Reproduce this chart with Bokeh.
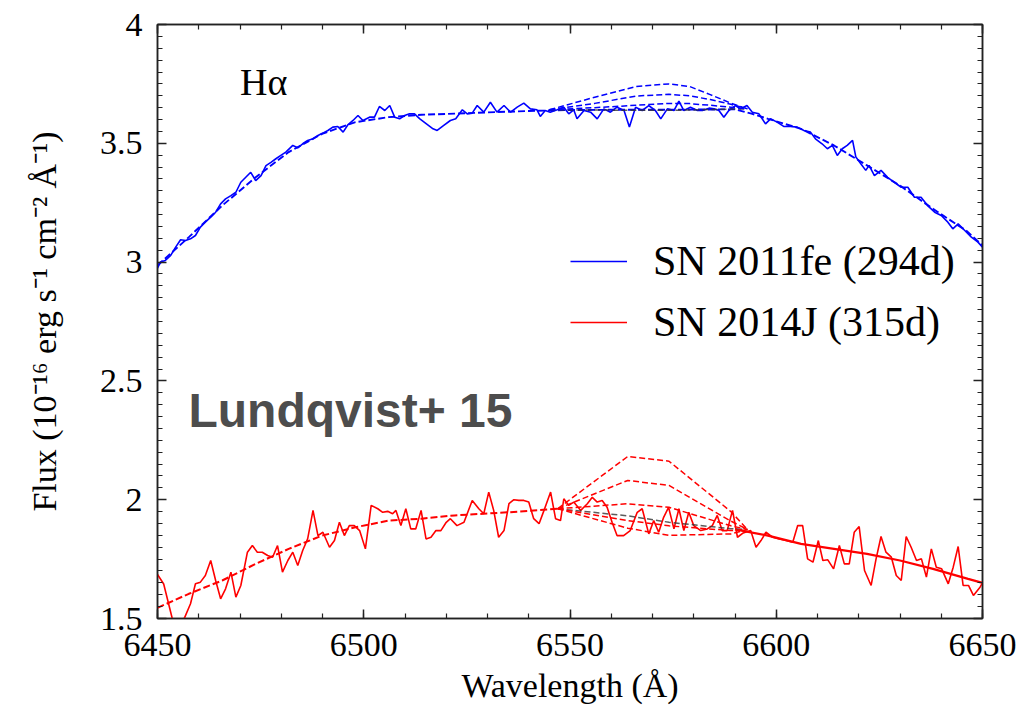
from bokeh.plotting import figure
from bokeh.models import Range1d, FixedTicker, LinearAxis, Legend, LegendItem, Label
from bokeh.embed import file_html
from bokeh.resources import INLINE
import numpy as np

# ---------------- data ----------------
x_ticks = [6450, 6500, 6550, 6600, 6650]
y_ticks = [1.5, 2.0, 2.5, 3.0, 3.5, 4.0]

# SN 2011fe (294d) observed spectrum
blue_wl = [6450.0, 6450.7, 6451.9, 6453.2, 6454.4, 6455.6, 6456.8, 6458.0, 6459.2, 6460.4,
           6461.6, 6462.9, 6464.1, 6465.3, 6466.5, 6467.8, 6469.0, 6470.2, 6471.4, 6472.6,
           6473.8, 6475.1, 6476.3, 6477.5, 6478.7, 6479.9, 6481.1, 6482.8, 6484.0, 6485.2,
           6486.4, 6487.7, 6488.9, 6490.1, 6491.3, 6492.5, 6493.7, 6495.0, 6496.2, 6497.4,
           6498.6, 6499.8, 6501.4, 6502.6, 6503.8, 6505.1, 6506.3, 6507.5, 6508.7, 6509.9,
           6511.1, 6512.3, 6513.6, 6515.2, 6516.8, 6517.8, 6519.4, 6521.0, 6522.3, 6523.9,
           6525.1, 6526.3, 6527.5, 6529.1, 6530.7, 6532.3, 6534.0, 6535.6, 6537.2, 6538.8,
           6540.4, 6542.0, 6542.8, 6544.0, 6545.2, 6546.9, 6548.5, 6549.7, 6550.9, 6551.7,
           6553.4, 6555.0, 6556.6, 6558.2, 6559.8, 6561.4, 6563.1, 6564.4, 6565.9, 6567.5,
           6569.1, 6570.7, 6572.0, 6573.6, 6575.2, 6576.4, 6577.6, 6579.2, 6580.9, 6582.1,
           6583.7, 6584.9, 6586.1, 6587.3, 6588.5, 6590.1, 6591.3, 6592.9, 6594.2, 6595.8,
           6597.4, 6598.6, 6600.2, 6601.8, 6603.5, 6605.1, 6606.7, 6608.3, 6609.5, 6611.1,
           6612.4, 6613.6, 6614.8, 6616.0, 6617.2, 6618.5, 6619.3, 6620.5, 6621.7, 6622.5,
           6623.8, 6625.4, 6627.0, 6628.6, 6630.3, 6631.9, 6633.5, 6635.1, 6636.7, 6638.4,
           6640.0, 6641.6, 6642.8, 6644.1, 6645.7, 6647.3, 6648.9, 6650.0]
blue_flux = [2.975, 3.000, 3.007, 3.028, 3.063, 3.094, 3.091, 3.098, 3.112, 3.147,
             3.168, 3.189, 3.210, 3.245, 3.266, 3.280, 3.294, 3.336, 3.357, 3.378,
             3.343, 3.364, 3.406, 3.420, 3.435, 3.449, 3.463, 3.491, 3.481, 3.498,
             3.512, 3.519, 3.533, 3.543, 3.554, 3.568, 3.571, 3.547, 3.579, 3.596,
             3.617, 3.596, 3.610, 3.610, 3.655, 3.638, 3.659, 3.610, 3.603, 3.617,
             3.624, 3.624, 3.603, 3.582, 3.561, 3.554, 3.575, 3.596, 3.603, 3.641,
             3.624, 3.627, 3.659, 3.631, 3.673, 3.631, 3.659, 3.631, 3.652, 3.669,
             3.645, 3.641, 3.613, 3.638, 3.631, 3.641, 3.652, 3.624, 3.641, 3.603,
             3.638, 3.631, 3.603, 3.645, 3.631, 3.652, 3.638, 3.569, 3.652, 3.638,
             3.659, 3.638, 3.603, 3.645, 3.638, 3.677, 3.638, 3.652, 3.638, 3.638,
             3.648, 3.645, 3.638, 3.610, 3.638, 3.659, 3.645, 3.659, 3.631, 3.624,
             3.582, 3.603, 3.589, 3.571, 3.571, 3.568, 3.554, 3.547, 3.519, 3.498,
             3.477, 3.491, 3.449, 3.477, 3.491, 3.512, 3.442, 3.414, 3.386, 3.407,
             3.364, 3.386, 3.357, 3.336, 3.315, 3.315, 3.273, 3.273, 3.238, 3.210,
             3.196, 3.168, 3.140, 3.161, 3.133, 3.105, 3.084, 3.063]

# SN 2011fe smooth continuum fit
blue_cont_wl = [6450, 6457.6, 6465.7, 6473.8, 6481.8, 6489.9, 6498, 6506, 6514, 6522,
                6530, 6540, 6550, 6560, 6570, 6580, 6590, 6594, 6598, 6606, 6614, 6622,
                6630, 6638, 6646, 6650]
blue_cont_flux = [2.986, 3.105, 3.238, 3.357, 3.463, 3.540, 3.589, 3.610, 3.620, 3.625,
                  3.630, 3.636, 3.640, 3.641, 3.641, 3.642, 3.643, 3.625, 3.603, 3.561,
                  3.491, 3.407, 3.322, 3.224, 3.133, 3.070]

# SN 2011fe H-alpha model lines
blue_model_wl = [6545, 6556, 6566, 6574, 6579, 6584, 6589, 6593]
blue_model_0 = [3.641, 3.640, 3.639, 3.639, 3.640, 3.642, 3.644, 3.645]
blue_model_1 = [3.641, 3.650, 3.660, 3.668, 3.667, 3.660, 3.652, 3.645]
blue_model_2 = [3.641, 3.668, 3.699, 3.706, 3.700, 3.684, 3.664, 3.645]
blue_model_3 = [3.641, 3.694, 3.739, 3.750, 3.739, 3.705, 3.669, 3.645]

# SN 2014J (315d) observed spectrum
red_wl = [6450.0, 6451.5, 6453.5, 6455.0, 6456.6, 6458.0, 6459.2, 6460.4, 6461.6, 6462.9,
          6464.1, 6465.3, 6466.5, 6467.8, 6469.0, 6470.2, 6471.8, 6473.0, 6474.2, 6475.4,
          6476.7, 6477.9, 6479.1, 6480.3, 6481.6, 6482.8, 6484.0, 6485.2, 6486.4, 6487.7,
          6488.9, 6490.1, 6491.7, 6492.9, 6494.1, 6495.3, 6496.5, 6497.7, 6499.0, 6500.4,
          6501.8, 6503.4, 6504.6, 6505.8, 6507.0, 6507.8, 6509.0, 6510.2, 6511.4, 6512.6,
          6513.9, 6515.1, 6516.3, 6517.5, 6518.7, 6520.0, 6521.0, 6522.6, 6524.3, 6526.3,
          6527.9, 6529.1, 6530.3, 6531.5, 6532.7, 6534.0, 6535.2, 6536.4, 6537.6, 6538.8,
          6540.0, 6541.2, 6542.5, 6543.7, 6545.3, 6546.5, 6547.7, 6548.5, 6549.7, 6550.9,
          6552.6, 6554.2, 6555.4, 6556.6, 6557.8, 6559.0, 6560.2, 6561.4, 6563.0, 6564.6,
          6566.3, 6567.5, 6569.1, 6570.3, 6571.5, 6572.7, 6573.9, 6575.2, 6576.4, 6577.6,
          6578.8, 6580.0, 6581.7, 6583.3, 6584.5, 6585.7, 6586.9, 6588.1, 6589.4, 6590.6,
          6592.0, 6593.8, 6595.1, 6596.3, 6597.5, 6599.1, 6600.7, 6602.4, 6604.0, 6605.2,
          6606.4, 6607.6, 6608.9, 6610.2, 6611.3, 6612.5, 6613.9, 6615.3, 6616.5, 6617.7,
          6618.9, 6620.1, 6621.4, 6623.0, 6624.2, 6625.4, 6626.6, 6627.9, 6629.1, 6630.3,
          6631.5, 6632.7, 6634.0, 6635.2, 6636.4, 6637.6, 6638.8, 6640.1, 6641.7, 6642.9,
          6644.1, 6645.3, 6646.6, 6647.8, 6649.4, 6650.0]
red_flux = [1.685, 1.645, 1.505, 1.460, 1.505, 1.562, 1.646, 1.653, 1.681, 1.744,
            1.660, 1.583, 1.625, 1.695, 1.590, 1.639, 1.779, 1.807, 1.779, 1.779,
            1.765, 1.758, 1.807, 1.695, 1.744, 1.779, 1.723, 1.786, 1.835, 1.955,
            1.849, 1.863, 1.800, 1.828, 1.905, 1.849, 1.891, 1.891, 1.870, 1.793,
            1.976, 1.962, 1.947, 1.951, 1.941, 1.955, 1.891, 1.962, 1.877, 1.877,
            1.955, 1.835, 1.842, 1.870, 1.870, 1.905, 1.920, 1.891, 1.905, 1.997,
            1.962, 1.941, 2.032, 1.955, 1.842, 1.870, 1.983, 2.000, 1.997, 1.997,
            1.990, 1.920, 1.899, 1.955, 2.032, 1.920, 1.912, 2.004, 1.976, 1.990,
            1.955, 1.983, 2.010, 1.990, 1.997, 1.968, 1.905, 1.849, 1.849, 1.870,
            1.947, 1.962, 1.856, 1.912, 1.863, 1.926, 1.968, 1.877, 1.962, 1.870,
            1.947, 1.891, 1.870, 1.877, 1.891, 1.934, 1.870, 1.870, 1.955, 1.842,
            1.860, 1.870, 1.800, 1.828, 1.863, 1.842, 1.835, 1.828, 1.821, 1.891,
            1.891, 1.751, 1.737, 1.828, 1.744, 1.747, 1.709, 1.807, 1.730, 1.730,
            1.863, 1.887, 1.702, 1.639, 1.751, 1.845, 1.779, 1.758, 1.681, 1.660,
            1.845, 1.800, 1.744, 1.751, 1.674, 1.793, 1.716, 1.709, 1.646, 1.716,
            1.803, 1.639, 1.639, 1.597, 1.632, 1.650]

# SN 2014J smooth continuum (blue side dashed, red side)
red_cont_left_wl = [6450, 6457.6, 6465.7, 6473.8, 6481.8, 6489.9, 6498, 6506, 6514, 6522, 6535, 6547]
red_cont_left_flux = [1.545, 1.604, 1.660, 1.730, 1.793, 1.849, 1.884, 1.912, 1.920, 1.934, 1.947, 1.962]
red_cont_right_wl = [6590, 6598, 6606, 6614, 6622, 6630, 6638, 6646.5, 6650]
red_cont_right_flux = [1.875, 1.849, 1.814, 1.793, 1.772, 1.744, 1.709, 1.667, 1.650]

# SN 2014J H-alpha model lines
red_model_wl = [6547, 6564, 6574, 6589, 6593]
red_model_0 = [1.962, 1.932, 1.905, 1.878, 1.875]
red_model_p1 = [1.962, 1.983, 1.968, 1.890, 1.875]
red_model_p2 = [1.962, 2.081, 2.060, 1.910, 1.875]
red_model_p3 = [1.962, 2.182, 2.162, 1.950, 1.875]
red_model_m1 = [1.962, 1.912, 1.890, 1.870, 1.875]
red_model_m2 = [1.962, 1.880, 1.850, 1.856, 1.875]

BLUE = "#0000ff"
RED = "#ff0000"
BLACK = "#333333"
SERIF = "Liberation Serif"

# ---------------- figure ----------------
p = figure(width=1031, height=709, output_backend="svg", toolbar_location=None,
           x_range=Range1d(6450, 6650), y_range=Range1d(1.5, 4.0),
           min_border_left=157, min_border_right=49, min_border_top=24,
           min_border_bottom=91)
p.xgrid.visible = False
p.ygrid.visible = False
p.outline_line_color = "#222222"
p.outline_line_width = 1.5
p.background_fill_color = "white"
p.border_fill_color = "white"

# lines
r_blue = p.line(blue_wl, blue_flux, line_color=BLUE, line_width=1.6)
p.line(blue_cont_wl, blue_cont_flux, line_color=BLUE, line_width=1.9, line_dash="7 3")
p.line(blue_model_wl, blue_model_0, line_color=BLACK, line_width=1.5, line_dash="6 3", line_alpha=0.8)
for ys in (blue_model_1, blue_model_2, blue_model_3):
    p.line(blue_model_wl, ys, line_color=BLUE, line_width=1.5, line_dash="6 3")

r_red = p.line(red_wl, red_flux, line_color=RED, line_width=1.6)
p.line(red_cont_left_wl, red_cont_left_flux, line_color=RED, line_width=2.0, line_dash="7 3")
p.line(red_cont_right_wl, red_cont_right_flux, line_color=RED, line_width=2.2)
p.line(red_model_wl, red_model_0, line_color=BLACK, line_width=1.5, line_dash="6 3", line_alpha=0.8)
for ys in (red_model_p1, red_model_p2, red_model_p3, red_model_m1, red_model_m2):
    p.line(red_model_wl, ys, line_color=RED, line_width=1.5, line_dash="6 3")

# axes
def style_axis(ax, ticks, minor, show_labels):
    ax.ticker = FixedTicker(ticks=ticks, minor_ticks=minor)
    ax.major_tick_in = 9
    ax.major_tick_out = 0
    ax.minor_tick_in = 5
    ax.minor_tick_out = 0
    ax.axis_line_color = "#222222"
    ax.axis_line_width = 1.5
    ax.major_tick_line_color = "#222222"
    ax.major_tick_line_width = 1.5
    ax.minor_tick_line_color = "#222222"
    ax.minor_tick_line_width = 1.2
    ax.major_label_text_font = SERIF
    ax.major_label_text_color = "black"
    ax.major_label_text_font_size = "34px" if show_labels else "0px"
    if not show_labels:
        ax.major_label_text_color = None

x_minor = list(np.arange(6450, 6651, 10))
y_minor = list(np.round(np.arange(1.5, 4.001, 0.05), 2))

style_axis(p.xaxis[0], x_ticks, x_minor, True)
style_axis(p.yaxis[0], y_ticks, y_minor, True)
p.xaxis[0].major_label_standoff = 15
p.yaxis[0].major_label_standoff = 15
p.xaxis[0].axis_label = "Wavelength (Å)"
p.yaxis[0].axis_label = "Flux (10\u207b\u00b9\u2076 erg s\u207b\u00b9 cm\u207b\u00b2 Å\u207b\u00b9)"
for ax in (p.xaxis[0], p.yaxis[0]):
    ax.axis_label_text_font = SERIF
    ax.axis_label_text_font_size = "34px"
    ax.axis_label_text_font_style = "normal"
    ax.axis_label_text_color = "black"
p.xaxis[0].axis_label_standoff = 8
p.yaxis[0].axis_label_standoff = 34

top_ax = LinearAxis()
style_axis(top_ax, x_ticks, x_minor, False)
p.add_layout(top_ax, "above")
right_ax = LinearAxis()
style_axis(right_ax, y_ticks, y_minor, False)
p.add_layout(right_ax, "right")

# annotations
p.add_layout(Label(x=6470, y=3.757, text="Hα", text_font=SERIF, text_font_size="38px",
                   text_color="black", text_baseline="alphabetic"))
p.add_layout(Label(x=6457.5, y=2.376, text="Lundqvist+ 15", text_font="Liberation Sans",
                   text_font_style="bold", text_font_size="48px", text_color="#4d4d4d",
                   text_baseline="alphabetic"))

legend = Legend(items=[LegendItem(label="SN 2011fe (294d)", renderers=[r_blue]),
                       LegendItem(label="SN 2014J (315d)", renderers=[r_red])],
                location=(413, 272), border_line_color=None, background_fill_alpha=0,
                label_text_font=SERIF, label_text_font_size="42px", label_text_color="black",
                glyph_width=57, glyph_height=20, label_standoff=26, spacing=13,
                padding=0, margin=0)
p.add_layout(legend)

open("out.html", "w").write(file_html(p, INLINE))
